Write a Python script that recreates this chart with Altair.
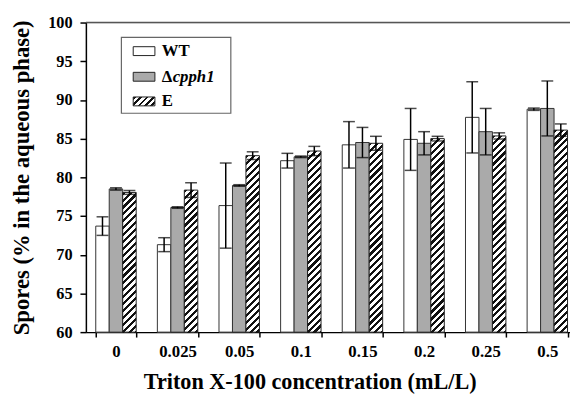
import altair as alt
import numpy as np
import pandas as pd

# ---------------- data ----------------
conc = ["0", "0.025", "0.05", "0.1", "0.15", "0.2", "0.25", "0.5"]
series = ["WT", "Δcpph1", "E"]
wt = [73.7, 71.3, 76.35, 82.15, 84.2, 84.9, 87.75, 88.8]
wt_err = [1.2, 0.9, 5.5, 0.95, 3.0, 4.0, 4.6, 0.15]
dl = [78.5, 76.1, 78.95, 82.65, 84.5, 84.4, 85.9, 88.9]
dl_err = [0.15, 0.1, 0.1, 0.1, 1.95, 1.5, 3.0, 3.55]
ee = [78.05, 78.35, 82.8, 83.4, 84.4, 85.0, 85.35, 86.1]
ee_err = [0.25, 0.95, 0.5, 0.6, 0.9, 0.3, 0.4, 0.8]
y_ticks = [60, 65, 70, 75, 80, 85, 90, 95, 100]

rows = []
for i, c in enumerate(conc):
    for s, v, er in zip(series, [wt, dl, ee], [wt_err, dl_err, ee_err]):
        rows.append(dict(conc=c, series=s, value=v[i], lo=v[i] - er[i], hi=v[i] + er[i]))
df = pd.DataFrame(rows)

# ---------------- layout constants ----------------
FONT = "Liberation Serif"
PLOT_W, PLOT_H = 491, 314
RANGE_X = 498.5
P_IN, P_OUT = 0.344, 0.16
YMIN, YMAX = 60, 100
step = RANGE_X / (len(conc) - P_IN + 2 * P_OUT)
bar_w = step * (1 - P_IN) / 3
px_per_unit = PLOT_H / (YMAX - YMIN)


def hatch(w, h, period=7.0, frac=0.45, ink="#111111", paper="#ffffff"):
    L = w + h
    k = L / (w * w + h * h)
    stops = []
    j = 0
    while j * period <= L:
        t0 = min(j * period / L, 1)
        t1 = min((j * period + frac * period) / L, 1)
        t2 = min((j + 1) * period / L, 1)
        stops += [
            {"offset": t0, "color": ink},
            {"offset": t1, "color": ink},
            {"offset": t1, "color": paper},
            {"offset": t2, "color": paper},
        ]
        j += 1
    return {"gradient": "linear", "x1": 0, "y1": 0, "x2": k * w, "y2": k * h, "stops": stops}


xscale = alt.Scale(domain=conc, range=[0, RANGE_X], paddingInner=P_IN, paddingOuter=P_OUT)
xoff_scale = alt.Scale(domain=series, paddingInner=0, paddingOuter=0)
yscale = alt.Scale(domain=[YMIN, YMAX], zero=False, nice=False)

xaxis = alt.Axis(
    title="Triton X-100 concentration (mL/L)",
    labelAngle=0, labelFont=FONT, labelFontWeight="bold", labelFontSize=17, labelColor="black",
    labelPadding=7, tickSize=5, tickWidth=1.5, tickColor="black", tickBand="extent",
    domainColor="black", domainWidth=1.5,
    titleFont=FONT, titleFontWeight="bold", titleFontSize=22.5, titleColor="black",
    titleX=227, titleY=39, titleAlign="center", titleBaseline="top",
)
yaxis = alt.Axis(
    title="Spores (% in the aqueous phase)", values=y_ticks, grid=False,
    labelFont=FONT, labelFontWeight="bold", labelFontSize=16.5, labelColor="black",
    labelPadding=8, tickSize=6, tickWidth=1.5, tickColor="black",
    domainColor="black", domainWidth=1.5,
    titleFont=FONT, titleFontWeight="bold", titleFontSize=23, titleColor="black",
    titlePadding=14,
)

X = alt.X("conc:N", scale=xscale, axis=xaxis)
XO = alt.XOffset("series:N", scale=xoff_scale)

base = alt.Chart(df)

bars_wd = base.transform_filter(alt.datum.series != "E").mark_bar(
    stroke="#333333", strokeWidth=1
).encode(
    x=X, xOffset=XO,
    y=alt.Y("value:Q", scale=yscale, axis=yaxis),
    y2=alt.datum(YMIN),
    fill=alt.Fill("series:N", scale=alt.Scale(domain=["WT", "Δcpph1"], range=["#ffffff", "#aaaaaa"]), legend=None),
)

e_layers = []
for i, c in enumerate(conc):
    h = (ee[i] - YMIN) * px_per_unit
    e_layers.append(
        base.transform_filter((alt.datum.series == "E") & (alt.datum.conc == c)).mark_bar(
            stroke="#222222", strokeWidth=1, fill=hatch(bar_w, h)
        ).encode(
            x=X, xOffset=XO,
            y=alt.Y("value:Q", scale=yscale, axis=yaxis),
            y2=alt.datum(YMIN),
        )
    )

err_rule = base.mark_rule(color="black", strokeWidth=1.5).encode(
    x=X, xOffset=XO,
    y=alt.Y("lo:Q", scale=yscale, axis=yaxis), y2="hi:Q",
)
cap_lo = base.mark_tick(color="black", thickness=1.5, size=12, orient="horizontal").encode(
    x=X, xOffset=XO, y=alt.Y("lo:Q", scale=yscale, axis=yaxis),
)
cap_hi = base.mark_tick(color="black", thickness=1.5, size=12, orient="horizontal").encode(
    x=X, xOffset=XO, y=alt.Y("hi:Q", scale=yscale, axis=yaxis),
)

top_line = alt.Chart(alt.Data(values=[{}])).mark_rule(color="#555555", strokeWidth=1.5).encode(
    y=alt.value(0)
)

# ---------------- legend (drawn as marks) ----------------
one = alt.Data(values=[{}])
leg = [
    alt.Chart(one).mark_rect(fill="white", stroke="#666666", strokeWidth=1.2).encode(
        x=alt.value(36), x2=alt.value(147), y=alt.value(15), y2=alt.value(92)
    )
]
rows_y = [29, 55, 80]
sw_fill = ["#ffffff", "#aaaaaa", hatch(22, 9, period=6.5)]
for ry, f in zip(rows_y, sw_fill):
    leg.append(
        alt.Chart(one).mark_rect(fill=f, stroke="#222222", strokeWidth=1).encode(
            x=alt.value(48), x2=alt.value(70), y=alt.value(ry - 4.5), y2=alt.value(ry + 4.5)
        )
    )
txt = dict(font=FONT, fontWeight="bold", fontSize=17, align="left", baseline="middle", color="black")
leg.append(alt.Chart(one).mark_text(text="WT", **txt).encode(x=alt.value(77), y=alt.value(rows_y[0])))
leg.append(alt.Chart(one).mark_text(text="Δ", **txt).encode(x=alt.value(77), y=alt.value(rows_y[1])))
leg.append(alt.Chart(one).mark_text(text="cpph1", fontStyle="italic", **txt).encode(x=alt.value(88), y=alt.value(rows_y[1])))
leg.append(alt.Chart(one).mark_text(text="E", **txt).encode(x=alt.value(77), y=alt.value(rows_y[2])))

chart = alt.layer(
    bars_wd, *e_layers, err_rule, cap_lo, cap_hi, top_line, *leg
).properties(
    width=PLOT_W, height=PLOT_H,
    autosize=alt.AutoSizeParams(type="none"),
    padding={"left": 79, "top": 12, "right": 0, "bottom": 60},
).configure_view(stroke=None).configure(background="white")

chart.save("out.html", embed_options={"renderer": "svg", "actions": False})
